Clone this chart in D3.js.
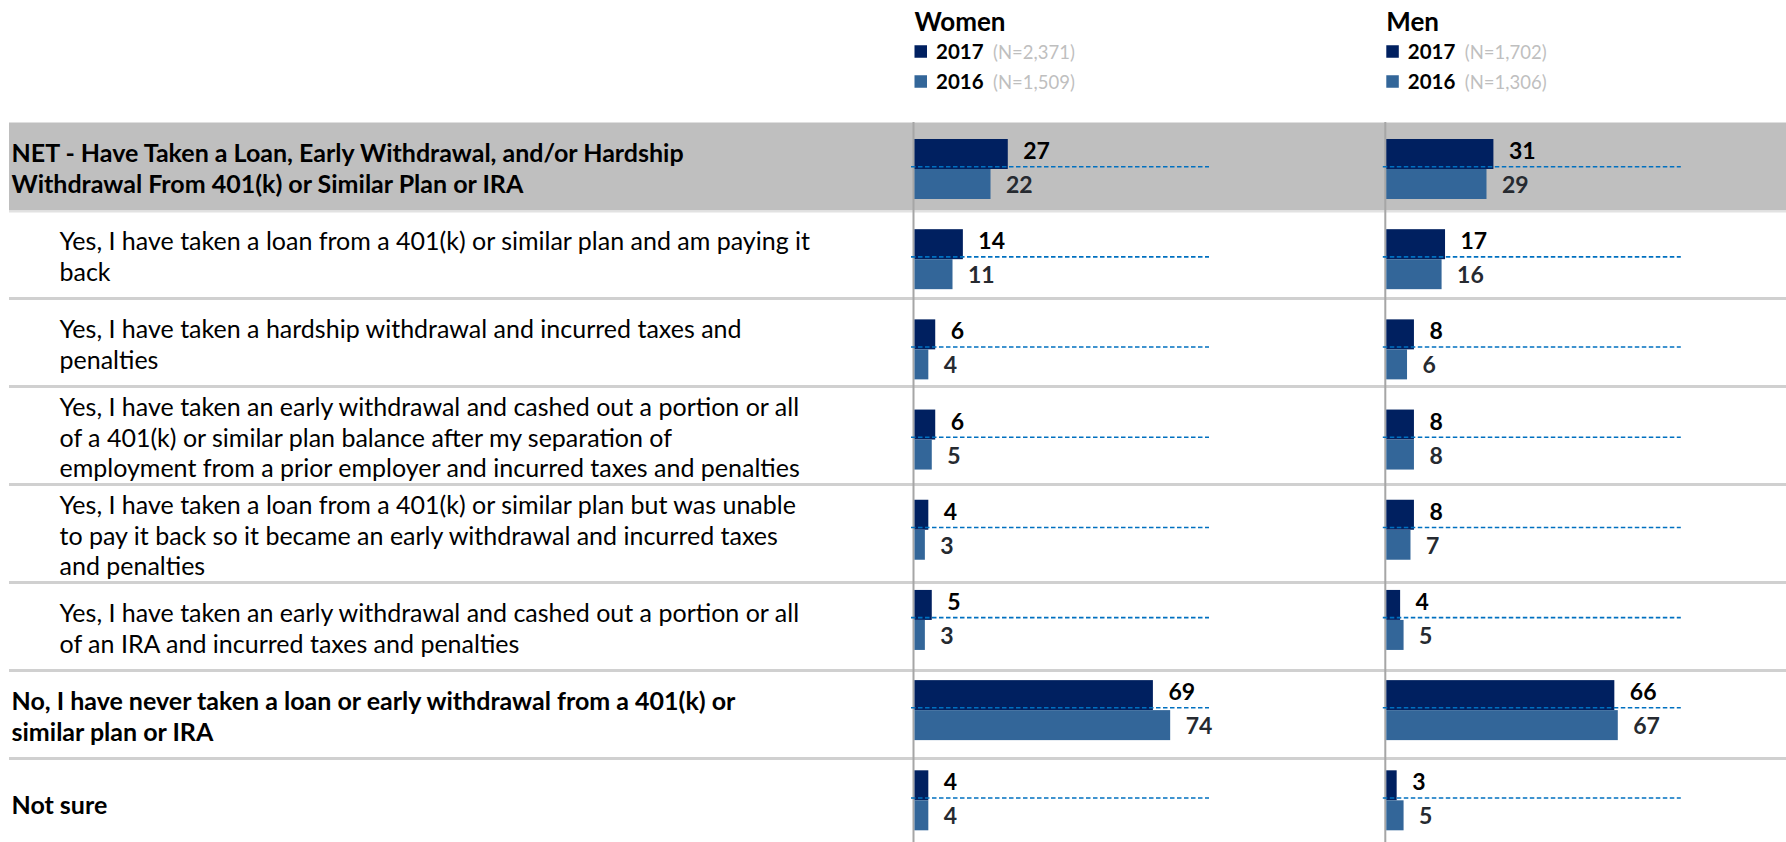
<!DOCTYPE html>
<html>
<head>
<meta charset="utf-8">
<script src="https://cdn.jsdelivr.net/npm/d3@7"></script>
<style>
  html, body { margin: 0; padding: 0; background: #ffffff; }
  svg { display: block; font-family: Lato, "Open Sans", sans-serif; }
</style>
</head>
<body>
<svg id="chart" width="1786" height="842"></svg>
<script>
// Survey answers (line breaks mark where each label wraps)
const categories = [
  "NET - Have Taken a Loan, Early Withdrawal, and/or Hardship\nWithdrawal From 401(k) or Similar Plan or IRA",
  "Yes, I have taken a loan from a 401(k) or similar plan and am paying it\nback",
  "Yes, I have taken a hardship withdrawal and incurred taxes and\npenalties",
  "Yes, I have taken an early withdrawal and cashed out a portion or all\nof a 401(k) or similar plan balance after my separation of\nemployment from a prior employer and incurred taxes and penalties",
  "Yes, I have taken a loan from a 401(k) or similar plan but was unable\nto pay it back so it became an early withdrawal and incurred taxes\nand penalties",
  "Yes, I have taken an early withdrawal and cashed out a portion or all\nof an IRA and incurred taxes and penalties",
  "No, I have never taken a loan or early withdrawal from a 401(k) or\nsimilar plan or IRA",
  "Not sure"
];
// Summary answers (net, never, not sure)
const summaryRows = [0, 6, 7];

const years = ["2017", "2016"];

const women2017 = [27, 14, 6, 6, 4, 5, 69, 4];
const women2016 = [22, 11, 4, 5, 3, 3, 74, 4];
const men2017   = [31, 17, 8, 8, 8, 4, 66, 3];
const men2016   = [29, 16, 6, 8, 7, 5, 67, 5];

const panelTitles = ["Women", "Men"];
const sampleSizes = [["N=2,371", "N=1,509"], ["N=1,702", "N=1,306"]];

// ---- layout ----
const W = 1786, H = 842;
const svg = d3.select("#chart");
const colors = { "2017": "#002060", "2016": "#336699" };
const labelColors = { "2017": "#000000", "2016": "#262a30" };

const panels = [
  { title: panelTitles[0], n: sampleSizes[0], x0: 914.5, series: { "2017": women2017, "2016": women2016 } },
  { title: panelTitles[1], n: sampleSizes[1], x0: 1386.3, series: { "2017": men2017, "2016": men2016 } }
];
const valueSpan = 345.5;   // pixels for 0..100%
const dashLength = 298;    // reference line length

// category bands
const idx = categories.map((_, i) => i);
const pIn = 1 - 60 / 90.19;
const y = d3.scaleBand().domain(idx).range([123.9, 845.4]).paddingInner(pIn).paddingOuter(pIn / 2);
const yInner = d3.scaleBand().domain(years).range([0, y.bandwidth()]);

// table rows: height depends on the number of text lines
const rowsTop = 122.5;
const rowHeights = categories.map(c => c.split("\n").length >= 3 ? 98 : 88);
const rowTops = [];
rowHeights.reduce((acc, h) => { rowTops.push(acc); return acc + h; }, rowsTop);

const table = svg.append("g");
// shaded NET row
table.append("rect")
  .attr("x", 9).attr("y", rowTops[0])
  .attr("width", W - 9).attr("height", rowHeights[0])
  .attr("fill", "#bfbfbf");

// row separators
table.selectAll("line.sep")
  .data(rowTops.slice(2))
  .join("line")
  .attr("class", "sep")
  .attr("x1", 9).attr("x2", W)
  .attr("y1", d => d).attr("y2", d => d)
  .attr("stroke", "#d0d0d0").attr("stroke-width", 3);
table.append("line")
  .attr("x1", 9).attr("x2", W)
  .attr("y1", rowTops[1] + 1).attr("y2", rowTops[1] + 1)
  .attr("stroke", "#e2e2e2").attr("stroke-width", 2);

// row labels
const lineH = 30.8;
const labels = table.selectAll("text.row")
  .data(categories)
  .join("text")
  .attr("class", "row")
  .attr("x", (d, i) => summaryRows.includes(i) ? 11.5 : 59.5)
  .attr("font-size", 25)
  .attr("font-weight", (d, i) => summaryRows.includes(i) ? 700 : 400)
  .attr("fill", "#000");
labels.each(function (d, i) {
  const lines = d.split("\n");
  const cy = rowTops[i] + rowHeights[i] / 2 + 2;
  const first = cy - (lines.length - 1) * lineH / 2;
  d3.select(this).selectAll("tspan")
    .data(lines)
    .join("tspan")
    .attr("x", summaryRows.includes(i) ? 11.5 : 59.5)
    .attr("y", (l, k) => first + k * lineH + 9)
    .text(l => l);
});

// ---- panels ----
panels.forEach(p => {
  const x = d3.scaleLinear().domain([0, 100]).range([p.x0, p.x0 + valueSpan]);
  const g = svg.append("g");

  // title
  g.append("text")
    .attr("x", x(0)).attr("y", 31)
    .attr("font-size", 26).attr("font-weight", 700)
    .attr("fill", "#000")
    .text(p.title);

  // legend
  years.forEach((yr, k) => {
    const cy = 51.5 + k * 30;
    g.append("rect")
      .attr("x", x(0)).attr("y", cy - 6.25)
      .attr("width", 12.5).attr("height", 12.5)
      .attr("fill", colors[yr]);
    const t = g.append("text")
      .attr("x", x(0) + 21.5).attr("y", cy + 7)
      .attr("font-size", 20.5);
    t.append("tspan").attr("font-weight", 700).attr("fill", "#000").text(yr);
    t.append("tspan").attr("x", x(0) + 78.5).attr("font-size", 18.5)
      .attr("fill", "#bfbfbf").text("(" + p.n[k] + ")");
  });

  // vertical axis
  g.append("line")
    .attr("x1", x(0) - 1).attr("x2", x(0) - 1)
    .attr("y1", 122).attr("y2", H)
    .attr("stroke", "#a6a6a6").attr("stroke-width", 2);

  // bars
  years.forEach(yr => {
    g.selectAll("rect.bar" + yr)
      .data(p.series[yr])
      .join("rect")
      .attr("class", "bar" + yr)
      .attr("x", x(0))
      .attr("y", (d, i) => y(i) + yInner(yr))
      .attr("width", d => x(d) - x(0))
      .attr("height", yInner.bandwidth())
      .attr("fill", colors[yr]);

    g.selectAll("text.val" + yr)
      .data(p.series[yr])
      .join("text")
      .attr("class", "val" + yr)
      .attr("x", d => x(d) + 15.5)
      .attr("y", (d, i) => y(i) + yInner(yr) + yInner.bandwidth() / 2 + (yr === "2017" ? 5 : 9))
      .attr("font-size", 23).attr("font-weight", 700)
      .attr("fill", labelColors[yr])
      .text(d => d);
  });

  // dashed reference line between the two years
  g.selectAll("line.ref")
    .data(idx)
    .join("line")
    .attr("class", "ref")
    .attr("x1", x(0) - 3.5).attr("x2", x(0) - 3.5 + dashLength)
    .attr("y1", i => y(i) + y.bandwidth() / 2 - 2.3)
    .attr("y2", i => y(i) + y.bandwidth() / 2 - 2.3)
    .attr("stroke", "#0070c0").attr("stroke-width", 1.6)
    .attr("stroke-dasharray", "4.5,2.5");
});
</script>
</body>
</html>
